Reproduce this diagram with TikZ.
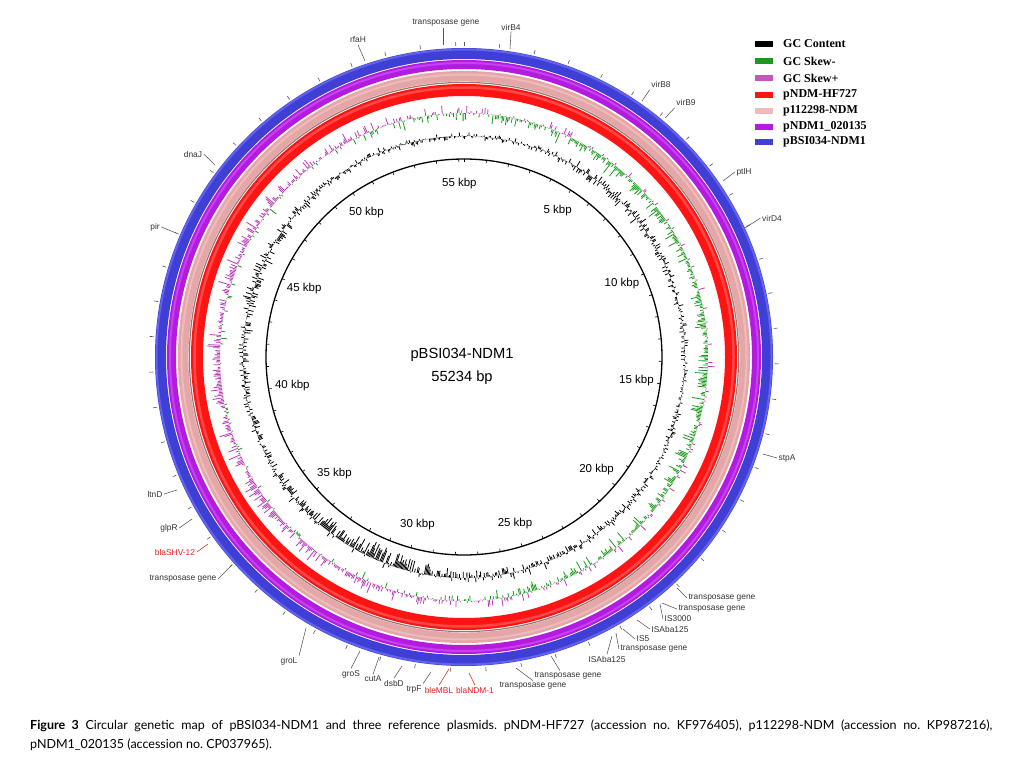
\documentclass[tikz,border=0pt]{standalone}
\usepackage{fontspec}
\setmainfont{Liberation Sans}
\newfontfamily\legfont{Liberation Serif}
\newfontfamily\capfont{Lato}
\usetikzlibrary{calc}
\definecolor{ringred}{HTML}{FF1414}
\definecolor{ringredhi}{HTML}{FF4848}
\definecolor{ringpink}{HTML}{E4A6A6}
\definecolor{ringpinkhi}{HTML}{EDBBBB}
\definecolor{ringgray}{HTML}{9A7878}
\definecolor{ringpurple}{HTML}{B31CE0}
\definecolor{ringpurplehi}{HTML}{C642EE}
\definecolor{ringblue}{HTML}{3F3FD6}
\definecolor{ringbluehi}{HTML}{6262EC}
\definecolor{skewneg}{HTML}{1A9A1A}
\definecolor{skewpos}{HTML}{B83AB8}
\definecolor{legpos}{HTML}{CC55BB}
\definecolor{labgray}{HTML}{333333}
\definecolor{labred}{HTML}{E02020}
\definecolor{leadgray}{HTML}{555555}
\begin{document}
\frenchspacing
\begin{tikzpicture}[x=1pt,y=-1pt,
  lbl/.style={font=\fontsize{8.4}{10}\selectfont, text=labgray, inner sep=1.5pt},
  redlbl/.style={lbl, text=labred},
  leader/.style={draw=leadgray, line width=0.55pt},
  kbp/.style={font=\fontsize{11.5}{13}\selectfont, inner sep=0pt},
  legtext/.style={font=\legfont\bfseries\fontsize{12}{14}\selectfont, anchor=west, inner sep=0pt},
  swatch/.style={minimum width=18pt, minimum height=6pt, inner sep=0pt, anchor=west},
  gcbar/.style={line width=0.8pt, black},
  tickmark/.style={line width=0.6pt, leadgray}]
\useasboundingbox (0,0) rectangle (1023,767);
\fill[white] (0,0) rectangle (1023,767);

\begin{scope}[shift={(464,357)}]
  % plasmid rings
  \draw[ringblue, line width=11pt] (0,0) circle (303.5);
  \draw[ringbluehi, line width=2pt] (0,0) circle (307.5);
  \draw[ringpurple, line width=9pt] (0,0) circle (292.5);
  \draw[ringpurplehi, line width=2pt] (0,0) circle (294);
  \draw[ringpink, line width=10.5pt] (0,0) circle (280.8);
  \draw[ringpinkhi, line width=2pt] (0,0) circle (282.5);
  \draw[ringgray, line width=1.2pt] (0,0) circle (274.6);
  \draw[ringred, line width=12pt] (0,0) circle (267);
  \draw[ringredhi, line width=2.5pt] (0,0) circle (269.5);
  % outer ticks every kbp
  \foreach \k in {0,...,55}{
    \draw[tickmark] ({-90+\k*6.5178}:311) -- ({-90+\k*6.5178}:315);
  }
  % inner backbone circle
  \draw[black, line width=1.3pt] (0,0) circle (198);
  \foreach \k in {0,...,55}{
    \draw[black, line width=0.6pt] ({-90+\k*6.5178}:198) -- ({-90+\k*6.5178}:195);
  }
  \foreach \k in {5,10,...,55}{
    \node[kbp] (kb\k) at ({-90+\k*6.5178}:174) {\k\ kbp};
  }
  % GC content and GC skew bars
  \pgfmathsetseed{2024}
  \foreach \i in {0,...,1104}{
    \pgfmathsetmacro{\a}{-90+\i*0.32589}
    \pgfmathsetmacro{\p}{\i/20}
    \pgfmathsetmacro{\amp}{4+9/(1+(\p-31.5)*(\p-31.5)/9)+6/(1+(\p-7)*(\p-7)/6)+6/(1+(\p-45)*(\p-45)/10)+4/(1+(\p-25)*(\p-25)/3)}
    \pgfmathsetmacro{\u}{rnd}
    \pgfmathsetmacro{\g}{\amp*(2*\u-1)*(0.4+0.6*rnd)-5/(1+(\p-31.5)*(\p-31.5)/9)}
    \pgfmathsetmacro{\rg}{221+\g}
    \draw[gcbar] (\a:221) -- (\a:\rg);
    \pgfmathsetmacro{\w}{rnd}
    \pgfmathsetmacro{\s}{11*(2*\w-1)*rnd+3.5*cos(360*(\p-40)/55.234)}
    \pgfmathsetmacro{\rp}{244+max(\s,0)}
    \pgfmathsetmacro{\rn}{244+min(\s,0)}
    \draw[skewpos, line width=0.8pt] (\a:244) -- (\a:\rp);
    \draw[skewneg, line width=0.8pt] (\a:244) -- (\a:\rn);
  }
\end{scope}

% centre title
\node[font=\fontsize{14.7}{17}\selectfont] (title) at (462,355) {pBSI034-NDM1};
\node[font=\fontsize{14.7}{17}\selectfont] (size) at (462,378) {55234 bp};

% gene labels
\coordinate (c1) at (443,45);
\node[lbl] (l1) at (446,23) {transposase gene};
\draw[leader] (c1) -- (l1.south -| c1);
\coordinate (c2) at (365,61);
\node[lbl] (l2) at (358,40) {rfaH};
\draw[leader] (c2) -- (l2.south);
\coordinate (c3) at (510,49);
\node[lbl] (l3) at (511,27) {virB4};
\draw[leader] (c3) -- (l3.south);
\coordinate (c4) at (642,101);
\node[lbl] (l4) at (661,85) {virB8};
\draw[leader] (c4) -- (l4.south west);
\coordinate (c5) at (665,118);
\node[lbl] (l5) at (686,103) {virB9};
\draw[leader] (c5) -- (l5.south west);
\coordinate (c6) at (723,181);
\node[lbl] (l6) at (744,172) {ptlH};
\draw[leader] (c6) -- (l6.west);
\coordinate (c7) at (745,228);
\node[lbl] (l7) at (772,218) {virD4};
\draw[leader] (c7) -- (l7.west);
\coordinate (c8) at (763,454);
\node[lbl] (l8) at (787,458) {stpA};
\draw[leader] (c8) -- (l8.west);
\coordinate (c9) at (677,588);
\node[lbl] (l9) at (722,598) {transposase gene};
\draw[leader] (c9) -- (l9.west);
\coordinate (c10) at (662,603);
\node[lbl] (l10) at (712,609) {transposase gene};
\draw[leader] (c10) -- (l10.west);
\coordinate (c11) at (660,604);
\node[lbl] (l11) at (678,619) {IS3000};
\draw[leader] (c11) -- (l11.west);
\coordinate (c12) at (637,620);
\node[lbl] (l12) at (670,629) {ISAba125};
\draw[leader] (c12) -- (l12.west);
\coordinate (c13) at (623,629);
\node[lbl] (l13) at (643,639) {IS5};
\draw[leader] (c13) -- (l13.west);
\coordinate (c14) at (616,633);
\node[lbl] (l14) at (654,649) {transposase gene};
\draw[leader] (c14) -- (l14.west);
\coordinate (c15) at (612,636);
\node[lbl] (l15) at (607,659) {ISAba125};
\draw[leader] (c15) -- (l15.north);
\coordinate (c16) at (551,656);
\node[lbl] (l16) at (568,676) {transposase gene};
\draw[leader] (c16) -- ($(l16.north)+(-8,0)$);
\coordinate (c17) at (516,668);
\node[lbl] (l17) at (533,686) {transposase gene};
\draw[leader] (c17) -- (l17.north);
\coordinate (c18) at (469,673);
\node[redlbl] (l18) at (475,690) {blaNDM-1};
\draw[leader, draw=labred] (c18) -- (l18.north);
\coordinate (c19) at (449,669);
\node[redlbl] (l19) at (439,690) {bleMBL};
\draw[leader, draw=labred] (c19) -- (l19.north);
\coordinate (c20) at (431,672);
\node[lbl] (l20) at (414,689) {trpF};
\draw[leader] (c20) -- (l20.north east);
\coordinate (c21) at (402,666);
\node[lbl] (l21) at (394,683) {dsbD};
\draw[leader] (c21) -- (l21.north);
\coordinate (c22) at (379,657);
\node[lbl] (l22) at (373,679) {cutA};
\draw[leader] (c22) -- (l22.north);
\coordinate (c23) at (360,651);
\node[lbl] (l23) at (351,674) {groS};
\draw[leader] (c23) -- (l23.north);
\coordinate (c24) at (306,628);
\node[lbl] (l24) at (289,661) {groL};
\draw[leader] (c24) -- (l24.north east);
\coordinate (c25) at (232,565);
\node[lbl] (l25) at (183,579) {transposase gene};
\draw[leader] (c25) -- (l25.east);
\coordinate (c26) at (208,544);
\node[redlbl] (l26) at (175,552) {blaSHV-12};
\draw[leader, draw=labred] (c26) -- (l26.east);
\coordinate (c27) at (192,519);
\node[lbl] (l27) at (169,528) {glpR};
\draw[leader] (c27) -- (l27.east);
\coordinate (c28) at (177,490);
\node[lbl] (l28) at (155,494) {ltnD};
\draw[leader] (c28) -- (l28.east);
\coordinate (c29) at (176,233);
\node[lbl] (l29) at (155,227) {pir};
\draw[leader] (c29) -- (l29.east);
\coordinate (c30) at (215,165);
\node[lbl] (l30) at (193,154) {dnaJ};
\draw[leader] (c30) -- (l30.east);

% legend
\node[swatch, fill=black] (s1) at (755,44) {};
\node[legtext] (t1) at (783,44) {GC Content};
\node[swatch, fill=skewneg] (s2) at (755,61) {};
\node[legtext] (t2) at (783,61) {GC Skew-};
\node[swatch, fill=legpos] (s3) at (755,78) {};
\node[legtext] (t3) at (783,78) {GC Skew+};
\node[swatch, fill=ringred] (s4) at (755,95) {};
\node[legtext] (t4) at (783,95) {pNDM-HF727};
\node[swatch, fill=ringpinkhi] (s5) at (755,111) {};
\node[legtext] (t5) at (783,111) {p112298-NDM};
\node[swatch, fill=ringpurple] (s6) at (755,127) {};
\node[legtext] (t6) at (783,127) {pNDM1\_020135};
\node[swatch, fill=ringblue] (s7) at (755,142) {};
\node[legtext] (t7) at (783,142) {pBSI034-NDM1};

% caption
\node[anchor=west, inner sep=0pt, font=\capfont\fontsize{12.5}{15}\selectfont] (cap1) at (30,726)
  {\hbox to 962pt{\textbf{Figure 3} Circular genetic map of pBSI034-NDM1 and three reference plasmids. pNDM-HF727 (accession no. KF976405), p112298-NDM (accession no. KP987216),}};
\node[anchor=west, inner sep=0pt, font=\capfont\fontsize{12.5}{15}\selectfont] (cap2) at (30,745)
  {pNDM1\_020135 (accession no. CP037965).};
\end{tikzpicture}
\end{document}
